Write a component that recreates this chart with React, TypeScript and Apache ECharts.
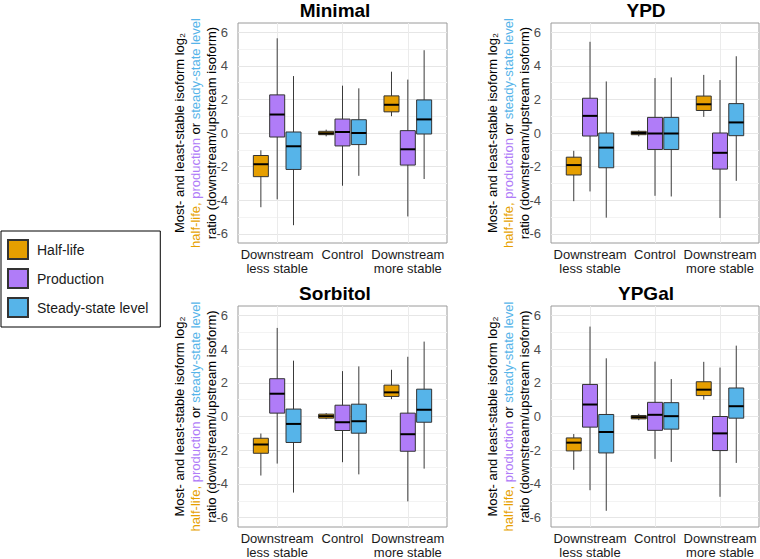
import React, { useEffect, useRef } from "react";
import * as echarts from "echarts";

const categories = ["Downstream\nless stable", "Control", "Downstream\nmore stable"];
const groups = ["Half-life", "Production", "Steady-state level"];
const panelTitles = ["Minimal", "YPD", "Sorbitol", "YPGal"];
const yTickLabels = [-6, -4, -2, 0, 2, 4, 6];
const yGridValues = [-6, -5, -4, -3, -2, -1, 0, 1, 2, 3, 4, 5, 6];
const xTickValues = [1, 2, 3];

// each row: [min, q1, median, q3, max] for the 3 categories
const minimalHalfLife = [[-4.42, -2.6, -1.86, -1.34, -1.03], [-0.2, -0.1, -0.02, 0.1, 0.2], [1.0, 1.26, 1.68, 2.21, 3.65]];
const minimalProduction = [[-3.95, -0.24, 1.1, 2.27, 5.64], [-3.14, -0.77, 0.06, 0.83, 2.82], [-4.97, -1.91, -0.97, 0.14, 3.18]];
const minimalSteady = [[-5.49, -2.17, -0.79, 0.06, 3.39], [-2.55, -0.69, 0.0, 0.79, 2.66], [-2.74, -0.06, 0.81, 1.97, 4.93]];

const ypdHalfLife = [[-4.06, -2.5, -1.91, -1.44, -1.06], [-0.2, -0.1, 0.0, 0.1, 0.15], [0.96, 1.34, 1.71, 2.2, 3.46]];
const ypdProduction = [[-3.48, -0.18, 1.02, 2.07, 5.43], [-3.74, -0.98, -0.03, 0.93, 3.27], [-5.06, -2.15, -1.18, 0.0, 3.15]];
const ypdSteady = [[-5.04, -2.07, -0.87, 0.0, 3.07], [-3.78, -0.98, -0.03, 0.93, 3.31], [-2.85, -0.16, 0.63, 1.75, 4.57]];

const sorbitolHalfLife = [[-3.5, -2.18, -1.66, -1.29, -1.01], [-0.16, -0.1, 0.02, 0.14, 0.2], [1.03, 1.19, 1.43, 1.86, 2.77]];
const sorbitolProduction = [[-2.79, 0.2, 1.35, 2.24, 5.25], [-2.71, -0.83, -0.34, 0.67, 2.69], [-5.03, -2.06, -1.05, 0.2, 3.54]];
const sorbitolSteady = [[-4.51, -1.54, -0.44, 0.44, 3.31], [-3.43, -0.99, -0.28, 0.73, 2.97], [-3.09, -0.34, 0.4, 1.62, 4.44]];

const ypgalHalfLife = [[-3.16, -2.04, -1.55, -1.27, -1.04], [-0.22, -0.14, -0.04, 0.06, 0.16], [1.0, 1.24, 1.59, 2.06, 3.24]];
const ypgalProduction = [[-4.37, -0.63, 0.71, 1.9, 5.33], [-2.51, -0.82, 0.1, 0.84, 3.25], [-4.76, -2.02, -1.0, 0.0, 2.9]];
const ypgalSteady = [[-5.59, -2.16, -0.92, 0.12, 3.45], [-2.69, -0.75, 0.02, 0.82, 2.22], [-2.75, -0.1, 0.61, 1.69, 4.2]];

const panelData = [
  [minimalHalfLife, minimalProduction, minimalSteady],
  [ypdHalfLife, ypdProduction, ypdSteady],
  [sorbitolHalfLife, sorbitolProduction, sorbitolSteady],
  [ypgalHalfLife, ypgalProduction, ypgalSteady],
];

const groupColors = ["#E69F00", "#B07CF8", "#56B4E9"];
const groupOffsets = [-0.25, 0, 0.25];
const BOX_W = 0.23;
const FONT = "Liberation Sans, Arial, Helvetica, sans-serif";

const grids = [
  { left: 238, top: 23, width: 209, height: 220 },
  { left: 551, top: 23, width: 208, height: 220 },
  { left: 238, top: 306, width: 209, height: 221 },
  { left: 551, top: 306, width: 208, height: 221 },
];
const titlePos = [
  { x: 335, y: 1 },
  { x: 646, y: 1 },
  { x: 335, y: 284 },
  { x: 646, y: 284 },
];

function makeRenderItem(offset: number, color: string) {
  return (params: any, api: any) => {
    const x = api.value(0) + offset;
    const pMin = api.coord([x, api.value(1)]);
    const pQ1 = api.coord([x, api.value(2)]);
    const pMed = api.coord([x, api.value(3)]);
    const pQ3 = api.coord([x, api.value(4)]);
    const pMax = api.coord([x, api.value(5)]);
    const half = api.size([BOX_W, 0])[0] / 2;
    return {
      type: "group",
      children: [
        {
          type: "line",
          shape: { x1: pMin[0], y1: pMin[1], x2: pMax[0], y2: pMax[1] },
          style: { stroke: "#3a3a3a", lineWidth: 1 },
        },
        {
          type: "rect",
          shape: { x: pQ3[0] - half, y: pQ3[1], width: half * 2, height: Math.max(pQ1[1] - pQ3[1], 1) },
          style: { fill: color, stroke: "#333333", lineWidth: 1 },
        },
        {
          type: "line",
          shape: { x1: pMed[0] - half, y1: pMed[1], x2: pMed[0] + half, y2: pMed[1] },
          style: { stroke: "#000000", lineWidth: 2 },
        },
      ],
    };
  };
}

export default function App() {
  const ref = useRef<HTMLDivElement>(null);
  useEffect(() => {
    if (!ref.current) return;
    const chart = echarts.init(ref.current, null, { renderer: "svg" });

    const xAxes = grids.map((_, i) => ({
      type: "value",
      gridIndex: i,
      min: 0.4,
      max: 3.6,
      axisLine: { show: false },
      axisTick: { show: false, customValues: xTickValues },
      axisLabel: {
        customValues: xTickValues,
        formatter: (v: number) => categories[Math.round(v) - 1] ?? "",
        fontSize: 13,
        lineHeight: 14,
        color: "#1a1a1a",
        fontFamily: FONT,
        margin: 4,
      },
      splitLine: { show: true, lineStyle: { color: "#EBEBEB", width: 1 } },
    }));

    const yAxes = grids.map((_, i) => ({
      type: "value",
      gridIndex: i,
      min: -6.55,
      max: 6.55,
      axisLine: { show: false },
      axisTick: { show: false, customValues: yGridValues },
      axisLabel: {
        customValues: yTickLabels,
        formatter: (v: number) => (v < 0 ? "-" + Math.abs(v) : String(v)),
        fontSize: 13,
        color: "#4d4d4d",
        fontFamily: FONT,
        margin: 10,
      },
      splitLine: { show: true, lineStyle: { color: ["#E6E6E6", "#F3F3F3"], width: 1 } },
    }));

    const series: any[] = [];
    panelData.forEach((groupArrays, p) => {
      groupArrays.forEach((arr, g) => {
        series.push({
          type: "custom",
          name: groups[g],
          xAxisIndex: p,
          yAxisIndex: p,
          itemStyle: { color: groupColors[g], borderColor: "#333333", borderWidth: 1 },
          encode: { x: 0, y: [1, 2, 3, 4, 5] },
          renderItem: makeRenderItem(groupOffsets[g], groupColors[g]),
          data: arr.map((s, c) => [c + 1, ...s]),
          silent: true,
        });
      });
    });

    const yNameGraphics: any[] = [];
    const FS = 13;
    grids.forEach((gr) => {
      const cy = gr.top + gr.height / 2;
      const base = gr.left - 27;
      const common = { align: "center", verticalAlign: "middle", fontSize: FS, fontFamily: FONT };
      yNameGraphics.push({
        type: "text",
        x: base - 32,
        y: cy,
        rotation: Math.PI / 2,
        style: { ...common, text: "Most- and least-stable isoform log\u2082", fill: "#000" },
      });
      yNameGraphics.push({
        type: "text",
        x: base - 16,
        y: cy,
        rotation: Math.PI / 2,
        style: {
          ...common,
          text: "{o|half-life, }{p|production}{k| or }{b|steady-state level}",
          fill: "#000",
          rich: {
            o: { fill: groupColors[0], fontSize: FS, fontFamily: FONT },
            p: { fill: groupColors[1], fontSize: FS, fontFamily: FONT },
            k: { fill: "#000", fontSize: FS, fontFamily: FONT },
            b: { fill: groupColors[2], fontSize: FS, fontFamily: FONT },
          },
        },
      });
      yNameGraphics.push({
        type: "text",
        x: base,
        y: cy,
        rotation: Math.PI / 2,
        style: { ...common, text: "ratio (downstream/upstream isoform)", fill: "#000" },
      });
    });

    chart.setOption({
      animation: false,
      backgroundColor: "#ffffff",
      title: panelTitles.map((t, i) => ({
        text: t,
        left: titlePos[i].x,
        top: titlePos[i].y,
        textAlign: "center",
        padding: 0,
        textStyle: { fontSize: 19, fontWeight: "bold", color: "#000", fontFamily: FONT },
      })),
      legend: {
        data: groups,
        orient: "vertical",
        left: 1,
        top: 231,
        icon: "rect",
        itemWidth: 20,
        itemHeight: 19,
        itemGap: 8,
        padding: [8, 12, 9, 6],
        borderColor: "#000",
        borderWidth: 1,
        selectedMode: false,
        textStyle: { fontSize: 14, color: "#1a1a1a", fontFamily: FONT, padding: [0, 0, 0, 4] },
      },
      grid: grids.map((g) => ({
        ...g,
        show: true,
        borderColor: "#9a9a9a",
        borderWidth: 1,
        backgroundColor: "#fff",
        containLabel: false,
      })),
      xAxis: xAxes,
      yAxis: yAxes,
      series,
      graphic: yNameGraphics,
    });
    return () => chart.dispose();
  }, []);
  return (
    <div
      ref={ref}
      style={{ position: "absolute", left: 0, top: 0, width: 760, height: 559 }}
    />
  );
}
